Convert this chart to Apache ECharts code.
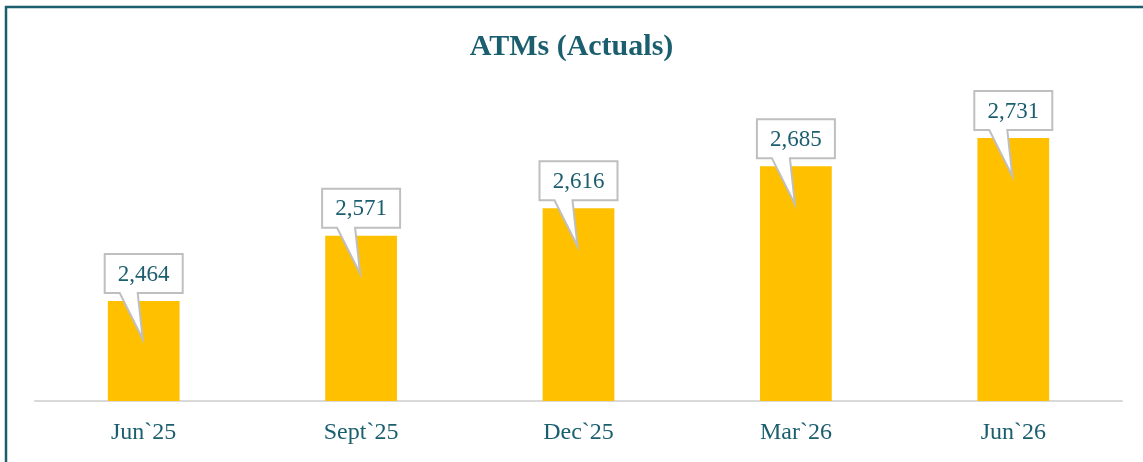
<!DOCTYPE html>
<html>
<head>
<meta charset="utf-8">
<script src="https://cdn.jsdelivr.net/npm/echarts@6/dist/echarts.min.js"></script>
<style>
  html, body { margin: 0; padding: 0; background: #fff; }
  #chart { width: 1143px; height: 462px; }
</style>
</head>
<body>
<div id="chart"></div>
<script>
// data
var categories = ['Jun`25', 'Sept`25', 'Dec`25', 'Mar`26', 'Jun`26'];
var atmValues = [2464, 2571, 2616, 2685, 2731];

var teal = '#1B5E6E';
var gold = '#FFC000';

function fmt(v) {
  return String(v).replace(/\B(?=(\d{3})+(?!\d))/g, ',');
}

// callout box (like the excel data callout) drawn from the bar top
function calloutItem(params, api) {
  var p = api.coord([api.value(0), api.value(1)]);
  var cx = p[0], ty = p[1];
  var L = cx - 39, R = cx + 39, T = ty - 47, B = ty - 8;
  return {
    type: 'group',
    children: [{
      type: 'polygon',
      shape: {
        points: [[L, T], [R, T], [R, B], [cx - 6, B], [cx - 1, ty + 38], [cx - 24, B], [L, B]]
      },
      style: { fill: '#fff', stroke: '#BFBFBF', lineWidth: 2 }
    }, {
      type: 'text',
      style: {
        x: cx, y: (T + B) / 2 + 1,
        text: fmt(api.value(1)),
        fill: teal,
        font: '23px "Liberation Serif", serif',
        align: 'center',
        verticalAlign: 'middle'
      }
    }]
  };
}

var chart = echarts.init(document.getElementById('chart'));

var option = {
  animation: false,
  title: {
    text: 'ATMs (Actuals)',
    left: 'center',
    top: 27,
    textStyle: {
      color: teal,
      fontFamily: '"Liberation Serif", serif',
      fontWeight: 'bold',
      fontSize: 30
    }
  },
  graphic: [{
    type: 'rect',
    shape: { x: 6, y: 7, width: 1300, height: 600 },
    style: { fill: 'none', stroke: teal, lineWidth: 2.5 },
    silent: true
  }],
  grid: { left: 35, right: 21, top: 96, bottom: 61 },
  xAxis: {
    type: 'category',
    data: categories,
    axisTick: { show: false },
    axisLine: { lineStyle: { color: '#D9D9D9', width: 2 } },
    axisLabel: {
      color: teal,
      fontFamily: '"Liberation Serif", serif',
      fontSize: 24,
      margin: 20
    }
  },
  yAxis: {
    type: 'value',
    min: 2300,
    max: 2800,
    show: false,
    splitLine: { show: false }
  },
  series: [{
    type: 'bar',
    data: atmValues,
    barWidth: '33%',
    itemStyle: { color: gold }
  }, {
    type: 'custom',
    renderItem: calloutItem,
    clip: false,
    z: 5,
    data: atmValues.map(function (v, i) { return [i, v]; }),
    encode: { x: 0, y: 1 }
  }]
};

chart.setOption(option);
</script>
</body>
</html>
